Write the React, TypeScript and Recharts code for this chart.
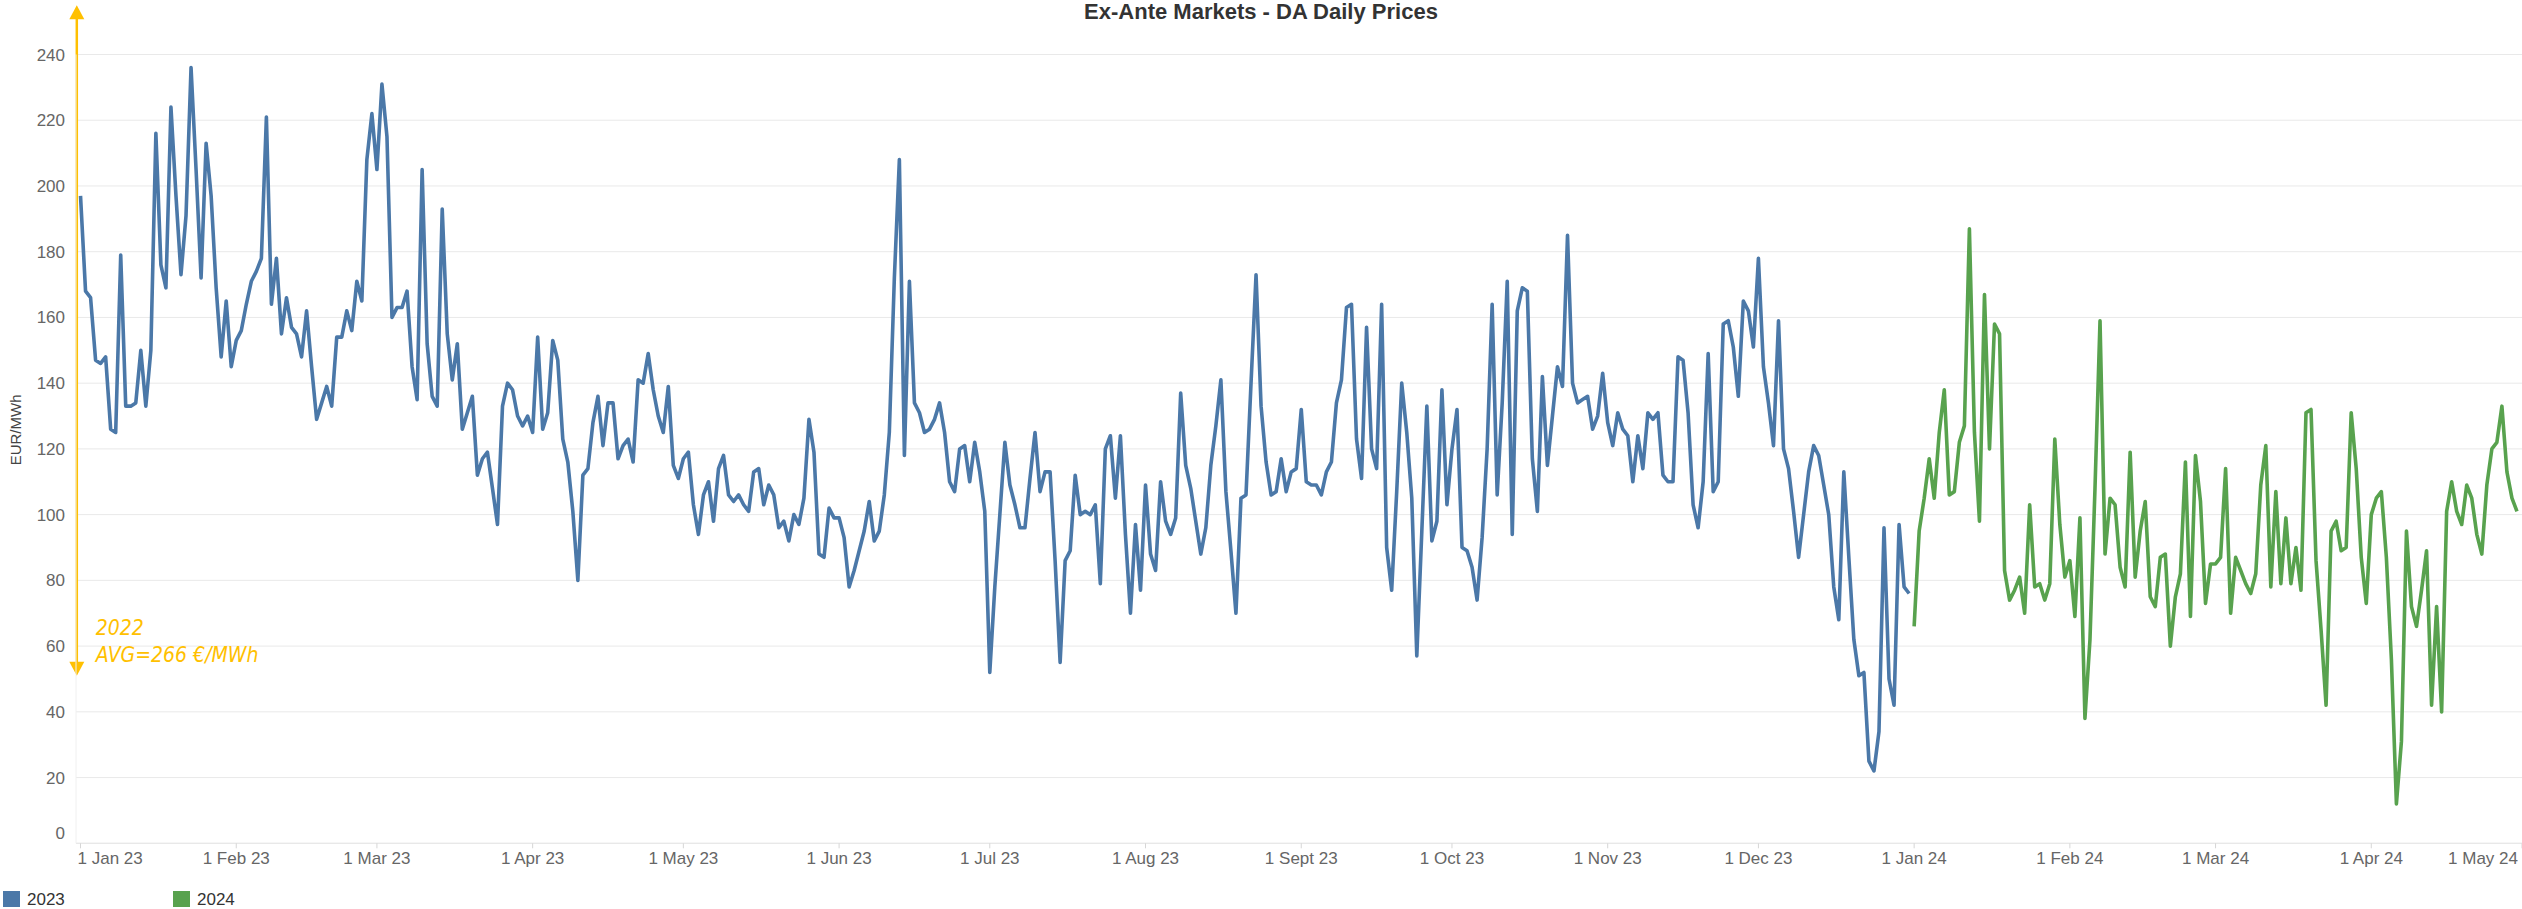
import React from 'react';
import { LineChart, Line, XAxis, YAxis, CartesianGrid, ReferenceLine } from 'recharts';

// daily DA prices, EUR/MWh (index 0 = 1 Jan)
const prices2023 = [
  197, 168, 166, 147, 146, 148, 126, 125, 179, 133,
  133, 134, 150, 133, 150, 216, 176, 169, 224, 197,
  173, 191, 236, 205, 172, 213, 197, 169, 148, 165,
  145, 153, 156, 164, 171, 174, 178, 221, 164, 178,
  155, 166, 157, 155, 148, 162, 145, 129, 134, 139,
  133, 154, 154, 162, 156, 171, 165, 208, 222, 205,
  231, 215, 160, 163, 163, 168, 145, 135, 205, 152,
  136, 133, 193, 155, 141, 152, 126, 131, 136, 112,
  117, 119, 108, 97, 133, 140, 138, 130, 127, 130,
  125, 154, 126, 131, 153, 147, 123, 116, 101, 80,
  112, 114, 128, 136, 121, 134, 134, 117, 121, 123,
  116, 141, 140, 149, 138, 130, 125, 139, 115, 111,
  117, 119, 103, 94, 106, 110, 98, 114, 118, 106,
  104, 106, 103, 101, 113, 114, 103, 109, 106, 96,
  98, 92, 100, 97, 105, 129, 119, 88, 87, 102,
  99, 99, 93, 78, 83, 89, 95, 104, 92, 95,
  106, 125, 172, 208, 118, 171, 134, 131, 125, 126,
  129, 134, 125, 110, 107, 120, 121, 110, 122, 113,
  101, 52, 78, 100, 122, 109, 103, 96, 96, 111,
  125, 107, 113, 113, 86, 55, 86, 89, 112, 100,
  101, 100, 103, 79, 120, 124, 105, 124, 94, 70,
  97, 77, 109, 88, 83, 110, 98, 94, 99, 137,
  115, 108, 98, 88, 96, 115, 127, 141, 107, 89,
  70, 105, 106, 140, 173, 133, 116, 106, 107, 117,
  107, 113, 114, 132, 110, 109, 109, 106, 113, 116,
  134, 141, 163, 164, 123, 111, 157, 120, 114, 164,
  90, 77, 107, 140, 125, 105, 57, 95, 133, 92,
  98, 138, 103, 120, 132, 90, 89, 84, 74, 93,
  120, 164, 106, 134, 171, 94, 162, 169, 168, 117,
  101, 142, 115, 130, 145, 139, 185, 140, 134, 135,
  136, 126, 130, 143, 128, 121, 131, 126, 124, 110,
  124, 114, 131, 129, 131, 112, 110, 110, 148, 147,
  131, 103, 96, 110, 149, 107, 110, 158, 159, 151,
  136, 165, 162, 151, 178, 145, 134, 121, 159, 120,
  114, 101, 87, 100, 113, 121, 118, 109, 100, 78,
  68, 113, 87, 62, 51, 52, 25, 22, 34, 96,
  50, 42, 97, 78, 76,
];

const prices2024 = [
  66, 95, 105, 117, 105, 125, 138, 106, 107, 122,
  127, 187, 125, 98, 167, 120, 158, 155, 83, 74,
  77, 81, 70, 103, 78, 79, 74, 79, 123, 97,
  81, 86, 69, 99, 38, 62, 108, 159, 88, 105,
  103, 84, 78, 119, 81, 95, 104, 75, 72, 87,
  88, 60, 75, 82, 116, 69, 118, 104, 73, 85,
  85, 87, 114, 70, 87, 83, 79, 76, 82, 109,
  121, 78, 107, 79, 99, 79, 90, 77, 131, 132,
  86, 65, 42, 95, 98, 89, 90, 131, 114, 87,
  73, 100, 105, 107, 87, 56, 12, 31, 95, 72,
  66, 77, 89, 42, 72, 40, 101, 110, 101, 97,
  109, 105, 94, 88, 109, 120, 122, 133, 113, 105, 101,
];

// day offsets from 1 Jan 23 for the month ticks
const tickDays = [0, 31, 59, 90, 120, 151, 181, 212, 243, 273, 304, 334, 365, 396, 425, 456, 486];
const tickLabels = [
  '1 Jan 23', '1 Feb 23', '1 Mar 23', '1 Apr 23', '1 May 23', '1 Jun 23', '1 Jul 23', '1 Aug 23',
  '1 Sept 23', '1 Oct 23', '1 Nov 23', '1 Dec 23', '1 Jan 24', '1 Feb 24', '1 Mar 24', '1 Apr 24', '1 May 24',
];
const yTicks = [0, 20, 40, 60, 80, 100, 120, 140, 160, 180, 200, 220, 240];
const yTitle = 'EUR/MWh';

const seriesNames = ['2023', '2024'];
const seriesColors = ['#4b78a8', '#58a24e'];

// 2022 average annotation (arrow runs past the top of the axis)
const avgLabel = ['2022', 'AVG=266 €/MWh'];
const arrowTop = 255;
const arrowBottom = 51;
const arrowDay = -0.74;

const FONT = '"Liberation Sans", Arial, Helvetica, sans-serif';
const ORANGE = '#ffc000';

const chartData = [
  ...prices2023.map((v, i) => ({ day: i, y2023: v, y2024: null as number | null })),
  ...prices2024.map((v, i) => ({ day: prices2023.length + i, y2023: null as number | null, y2024: v })),
];

const XTick = (props: any) => {
  const { x, y, payload } = props;
  const idx = tickDays.indexOf(payload.value);
  const last = idx === tickDays.length - 1;
  const first = idx === 0;
  return (
    <text
      x={first ? x - 3 : last ? x - 4 : x}
      y={y}
      dy="0.71em"
      textAnchor={first ? 'start' : last ? 'end' : 'middle'}
      fill="#666"
      fontSize={17}
      fontFamily={FONT}
    >
      {tickLabels[idx]}
    </text>
  );
};

const YTick = (props: any) => {
  const { x, y, payload } = props;
  // the zero label sits a bit above its gridline in the original
  const shift = payload.value === 0 ? -10 : 0;
  return (
    <text x={x} y={y + shift} dy="0.355em" textAnchor="end" fill="#666" fontSize={17} fontFamily={FONT}>
      {payload.value}
    </text>
  );
};

const YTitle = (props: any) => {
  const vb = props.viewBox || { x: 0, y: 54.5, width: 76, height: 789 };
  const cx = vb.x + 16;
  const cy = vb.y + vb.height / 2 - 19;
  return (
    <text
      x={cx}
      y={cy}
      transform={`rotate(-90, ${cx}, ${cy})`}
      textAnchor="middle"
      dominantBaseline="central"
      fill="#444"
      fontSize={15}
      fontFamily={FONT}
    >
      {yTitle}
    </text>
  );
};

const AvgArrow = (props: any) => {
  const { x1, y1, y2 } = props;
  const top = Math.min(y1, y2);
  const bottom = Math.max(y1, y2);
  const x = x1;
  const textStyle = {
    fill: ORANGE,
    fontSize: 21,
    fontStyle: 'italic' as const,
    fontFamily: '"Liberation Sans Narrow", "DejaVu Sans Condensed", sans-serif',
  };
  return (
    <g>
      <line x1={x} y1={top + 12} x2={x} y2={bottom - 12} stroke={ORANGE} strokeWidth={2.5} />
      <polygon points={`${x},${top} ${x - 7.5},${top + 14} ${x + 7.5},${top + 14}`} fill={ORANGE} />
      <polygon points={`${x},${bottom} ${x - 7.5},${bottom - 14} ${x + 7.5},${bottom - 14}`} fill={ORANGE} />
      <text x={x + 19} y={bottom - 41} style={textStyle}>{avgLabel[0]}</text>
      <text x={x + 19} y={bottom - 14} style={textStyle}>{avgLabel[1]}</text>
    </g>
  );
};

export default function App() {
  return (
    <div
      style={{
        position: 'fixed',
        left: 0,
        top: 0,
        width: 2522,
        height: 909,
        background: '#fff',
        overflow: 'hidden',
        fontFamily: FONT,
      }}
    >
      <LineChart width={2522} height={909} data={chartData} margin={{ top: 54.5, right: 0, bottom: 25.7, left: 0 }}>
        <CartesianGrid horizontal vertical={false} stroke="#e9e9e9" />
        <XAxis
          type="number"
          dataKey="day"
          domain={[-0.9, 486]}
          allowDataOverflow
          ticks={tickDays}
          interval={0}
          height={40}
          tickSize={5}
          tickMargin={4}
          tickLine={{ stroke: '#d6d6d6' }}
          axisLine={{ stroke: '#e6e6e6' }}
          tick={<XTick />}
        />
        <YAxis
          type="number"
          domain={[0, 240]}
          ticks={yTicks}
          interval={0}
          width={76}
          tickLine={false}
          tickMargin={5}
          axisLine={{ stroke: '#f0f0f0' }}
          tick={<YTick />}
          label={{ value: yTitle, content: <YTitle /> }}
        />
        <ReferenceLine
          segment={[
            { x: arrowDay, y: arrowTop },
            { x: arrowDay, y: arrowBottom },
          ]}
          ifOverflow="visible"
          shape={AvgArrow}
        />
        <Line
          type="linear"
          dataKey="y2023"
          name={seriesNames[0]}
          stroke={seriesColors[0]}
          strokeWidth={3.6}
          strokeLinejoin="round"
          dot={false}
          activeDot={false}
          isAnimationActive={false}
        />
        <Line
          type="linear"
          dataKey="y2024"
          name={seriesNames[1]}
          stroke={seriesColors[1]}
          strokeWidth={3.6}
          strokeLinejoin="round"
          dot={false}
          activeDot={false}
          isAnimationActive={false}
        />
      </LineChart>

      {/* title sits right at the top edge, as in the original */}
      <div
        style={{
          position: 'absolute',
          left: 0,
          top: 1,
          width: 2522,
          textAlign: 'center',
          fontSize: 22,
          lineHeight: '22px',
          fontWeight: 'bold',
          color: '#333',
        }}
      >
        Ex-Ante Markets - DA Daily Prices
      </div>

      {/* legend */}
      {seriesNames.map((name, i) => (
        <div key={name} style={{ position: 'absolute', left: 3 + i * 170, top: 891 }}>
          <div style={{ position: 'absolute', left: 0, top: 0, width: 17, height: 16, background: seriesColors[i] }} />
          <div
            style={{
              position: 'absolute',
              left: 24,
              top: 0,
              fontSize: 17,
              lineHeight: '17px',
              color: '#333',
              whiteSpace: 'nowrap',
            }}
          >
            {name}
          </div>
        </div>
      ))}
    </div>
  );
}
